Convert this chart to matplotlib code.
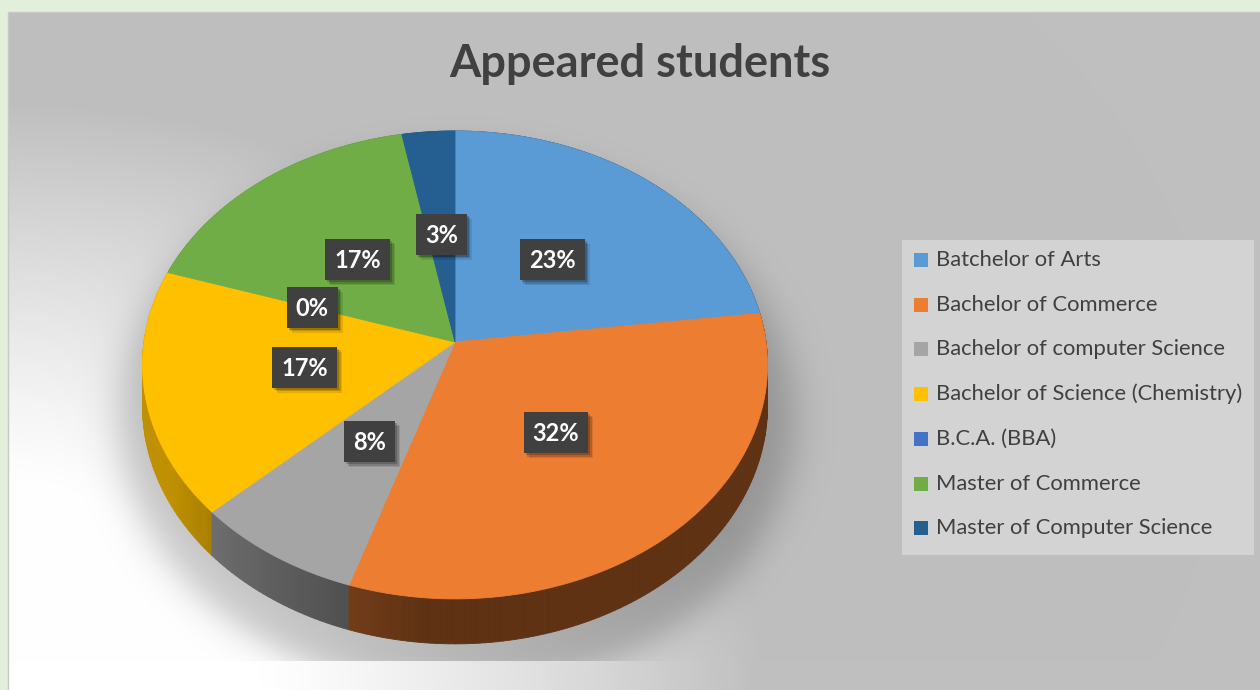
import numpy as np
import matplotlib.pyplot as plt
from matplotlib.patches import Polygon, Rectangle

plt.rcParams['font.family'] = ['Lato', 'DejaVu Sans']

# Chart data
title = 'Appeared students'
categories = ['Batchelor of Arts', 'Bachelor of Commerce', 'Bachelor of computer Science',
              'Bachelor of Science (Chemistry)', 'B.C.A. (BBA)', 'Master of Commerce',
              'Master of Computer Science']
shares = [23, 32, 8, 17, 0, 17, 3]
colors = ['#5B9BD5', '#ED7D31', '#A5A5A5', '#FFC000', '#4472C4', '#70AD47', '#255E91']

W, H = 1260, 690
fig = plt.figure(figsize=(W / 100, H / 100), dpi=100)
fig.patch.set_facecolor('#E2EFDA')
ax = fig.add_axes([0, 0, 1, 1])

# chart area background: white at bottom-left fading to grey, with the pie's soft shadow
x0, y0 = 8, 12
X, Y = np.meshgrid(np.arange(x0, W) + 0.5, np.arange(y0, H) + 0.5)
d = np.sqrt(X ** 2 + (1.3 * (H - Y)) ** 2)
dark = np.clip((d - 260) / 500, 0, 1) ** 1.2
bg = (255 - 64 * dark) / 255
s = np.sqrt(((X - 457) / 337) ** 2 + ((Y - 420) / 270) ** 2)
alpha = 0.22 / (1 + np.exp((s - 1) / 0.035))
alpha[Y > 661] = 0
img = bg * (1 - alpha)
ax.imshow(np.dstack([img] * 3), extent=(x0, W, H, y0), interpolation='bilinear',
          aspect='auto', zorder=0)
ax.plot([x0, x0, W], [H, y0, y0], color='#C8C8C8', lw=1, zorder=1)

# perspective view of the pie disc
cx, cy = 455, 342
a, b, k = 311, 231.7, 0.098
depth = 40.6


def project(u, v, drop=0.0):
    w = 1 + k * v
    return cx + a * u / w, cy - b * v / w + drop / w


def side_factor(theta):
    return 0.4 + 0.35 * np.clip((theta - 185) / 55, 0, 1)


bounds = np.concatenate([[0], np.cumsum(shares)]) / sum(shares) * 360

# side walls, far pieces first
quads = []
for i, c in enumerate(colors):
    t1, t2 = bounds[i], bounds[i + 1]
    if t2 - t1 <= 0:
        continue
    n = max(int(t2 - t1), 2)
    th = np.linspace(t1, t2, n + 1)
    rgb = np.array(plt.matplotlib.colors.to_rgb(c))
    for p, q in zip(th[:-1], th[1:]):
        m = np.radians((p + q) / 2)
        pts = []
        for t in (p, q):
            r = np.radians(t)
            pts.append(project(np.sin(r), np.cos(r)))
        for t in (q, p):
            r = np.radians(t)
            pts.append(project(np.sin(r), np.cos(r), depth))
        col = rgb * side_factor((p + q) / 2)
        quads.append((np.cos(m), pts, col))
quads.sort(key=lambda z: -z[0])
for _, pts, col in quads:
    ax.add_patch(Polygon(pts, closed=True, facecolor=col, edgecolor=col, lw=0.6, zorder=2))

# top face
for i, c in enumerate(colors):
    t1, t2 = bounds[i], bounds[i + 1]
    if t2 - t1 <= 0:
        continue
    th = np.radians(np.linspace(t1, t2, max(int(t2 - t1) * 2, 4)))
    pts = [project(0, 0)] + [project(np.sin(t), np.cos(t)) for t in th]
    ax.add_patch(Polygon(pts, closed=True, facecolor=c, edgecolor=c, lw=0.6, zorder=3))

# data labels
renderer = fig.canvas.get_renderer()
fs = 17
for i, v in enumerate(shares):
    mid = np.radians((bounds[i] + bounds[i + 1]) / 2)
    lx, ly = project(0.49 * np.sin(mid), 0.49 * np.cos(mid))
    txt = ax.text(lx, ly + 0.36 * fs * 100 / 72, f'{v / sum(shares):.0%}', color='white',
                  fontsize=fs, fontweight='bold', ha='center', va='baseline', zorder=7)
    w = txt.get_window_extent(renderer).width + 18
    for off, al in ((5, 0.10), (3.5, 0.15), (2, 0.2)):
        ax.add_patch(Rectangle((lx - w / 2 + off, ly - 20.5 + off), w, 41,
                               facecolor='black', alpha=al, lw=0, zorder=5))
    ax.add_patch(Rectangle((lx - w / 2, ly - 20.5), w, 41, facecolor='#404040', lw=0, zorder=6))

# title
ax.text(640, 77, title, fontsize=32.5, fontweight='bold', color='#404040',
        ha='center', va='baseline', zorder=7)

# legend
ax.add_patch(Rectangle((902, 240), 352, 315, facecolor='#D3D3D3', lw=0, zorder=4))
for i, (name, c) in enumerate(zip(categories, colors)):
    yy = 260 + i * 44.7
    ax.add_patch(Rectangle((914, yy - 7), 14, 14, facecolor=c, lw=0, zorder=5))
    ax.text(936, yy, name, fontsize=15.8, color='#404040', ha='left', va='center', zorder=5)

ax.set_xlim(0, W)
ax.set_ylim(H, 0)
ax.axis('off')
fig.savefig('out.png', dpi=100, facecolor=fig.get_facecolor())
